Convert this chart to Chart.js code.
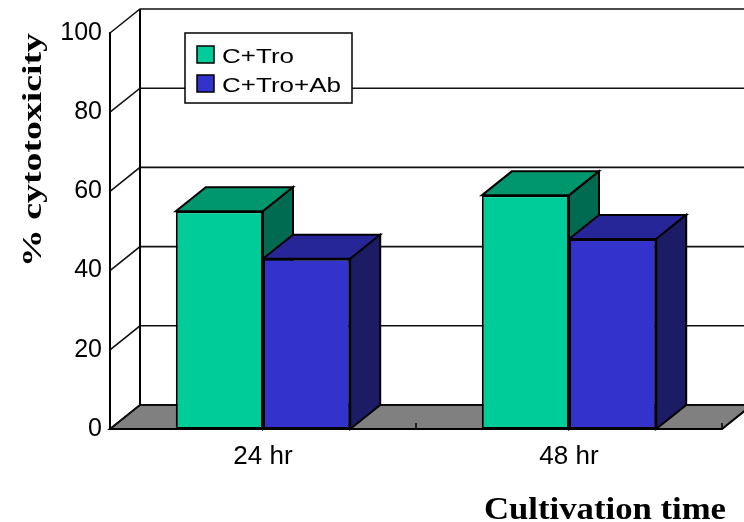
<!DOCTYPE html>
<html>
<head>
<meta charset="utf-8">
<script src="https://cdn.jsdelivr.net/npm/chart.js@4/dist/chart.umd.min.js"></script>
<style>
  html, body { margin: 0; padding: 0; background: #fff; }
  #wrap { width: 744px; height: 522px; }
</style>
</head>
<body>
<div id="wrap"><canvas id="c" width="744" height="522"></canvas></div>
<script>
// Cytotoxicity after cultivation, with and without antibody
const categories = ['24 hr', '48 hr'];
const seriesNames = ['C+Tro', 'C+Tro+Ab'];
const cTro = [55, 59];
const cTroAb = [43, 48];
const yMin = 0, yMax = 100, yStep = 20;
const yTitle = '% cytotoxicity';
const xTitle = 'Cultivation time';

// shading for the front, top and side faces of each series
const frontColors = ['#00CC99', '#3333CC'];
const topColors = ['#00976F', '#262699'];
const sideColors = ['#006B50', '#1C1C66'];

// oblique projection offset of the depth axis
const DX = 30, DY = 24;

function poly(ctx, pts, fill) {
  ctx.beginPath();
  ctx.moveTo(pts[0][0], pts[0][1]);
  for (let i = 1; i < pts.length; i++) ctx.lineTo(pts[i][0], pts[i][1]);
  ctx.closePath();
  if (fill) { ctx.fillStyle = fill; ctx.fill(); }
  ctx.stroke();
}

const box3d = {
  id: 'box3d',
  beforeDraw(chart) {
    const { ctx, chartArea: a, scales: { x, y } } = chart;
    ctx.save();
    ctx.fillStyle = '#fff';
    ctx.fillRect(0, 0, chart.width, chart.height);
    ctx.strokeStyle = '#000';
    ctx.lineJoin = 'miter';

    // floor
    ctx.lineWidth = 2;
    poly(ctx, [[a.left, a.bottom], [a.left + DX, a.bottom - DY],
               [a.right + DX, a.bottom - DY], [a.right, a.bottom]], '#808080');

    // gridlines: left side wall diagonal + back wall horizontal
    ctx.lineWidth = 1.6;
    ctx.strokeStyle = '#111';
    y.ticks.forEach(t => {
      const py = y.getPixelForValue(t.value);
      ctx.beginPath();
      ctx.moveTo(a.left, py);
      ctx.lineTo(a.left + DX, py - DY);
      ctx.lineTo(a.right + DX + 10, py - DY);
      ctx.stroke();
    });
    // back wall corner edge
    ctx.lineWidth = 2;
    ctx.strokeStyle = '#000';
    ctx.beginPath();
    ctx.moveTo(a.left + DX, y.getPixelForValue(yMax) - DY);
    ctx.lineTo(a.left + DX, a.bottom - DY);
    ctx.stroke();

    // category dividers on the floor's front edge
    const cw = (x.right - x.left) / categories.length;
    ctx.lineWidth = 1.5;
    for (let i = 1; i <= categories.length; i++) {
      const px = x.left + cw * i;
      ctx.beginPath();
      ctx.moveTo(px, a.bottom);
      ctx.lineTo(px, a.bottom - 6);
      ctx.stroke();
    }
    ctx.restore();
  },
  beforeDatasetsDraw(chart) {
    const { ctx } = chart;
    const metas = chart.getSortedVisibleDatasetMetas();
    ctx.save();
    ctx.strokeStyle = '#000';
    ctx.lineWidth = 2;
    ctx.lineJoin = 'miter';
    for (let j = 0; j < categories.length; j++) {
      metas.forEach((meta, k) => {
        const el = meta.data[j];
        const l = el.x - el.width / 2, r = el.x + el.width / 2;
        const t = el.y, b = el.base;
        poly(ctx, [[l, t], [l + DX, t - DY], [r + DX, t - DY], [r, t]], topColors[k]);
        poly(ctx, [[r, t], [r + DX, t - DY], [r + DX, b - DY], [r, b]], sideColors[k]);
      });
    }
    ctx.restore();
  },
  afterDraw(chart) {
    const { ctx, chartArea: a } = chart;
    ctx.save();
    // legend box
    const lx = a.left + 75, ly = a.top;
    ctx.fillStyle = '#fff';
    ctx.strokeStyle = '#000';
    ctx.lineWidth = 1.5;
    ctx.fillRect(lx, ly, 167, 70);
    ctx.strokeRect(lx, ly, 167, 70);
    ctx.font = '20px "Liberation Sans", Arial, sans-serif';
    ctx.textBaseline = 'alphabetic';
    ctx.textAlign = 'left';
    seriesNames.forEach((name, i) => {
      const sy = ly + 13 + i * 29;
      ctx.fillStyle = frontColors[i];
      ctx.fillRect(lx + 12, sy, 17, 17);
      ctx.lineWidth = 1.5;
      ctx.strokeRect(lx + 12, sy, 17, 17);
      ctx.fillStyle = '#000';
      ctx.save();
      ctx.translate(lx + 37, sy + 17);
      ctx.scale(1.3, 1);
      ctx.fillText(name, 0, 0);
      ctx.restore();
    });

    // value axis title, stretched along its reading direction
    ctx.fillStyle = '#000';
    ctx.font = 'bold 27px "Liberation Serif", "Times New Roman", serif';
    let w = ctx.measureText(yTitle).width;
    ctx.save();
    ctx.translate(41, 267);
    ctx.rotate(-Math.PI / 2);
    ctx.scale(234 / w, 1);
    ctx.fillText(yTitle, 0, 0);
    ctx.restore();

    // category axis title
    ctx.font = 'bold 32px "Liberation Serif", "Times New Roman", serif';
    w = ctx.measureText(xTitle).width;
    ctx.save();
    ctx.translate(726, 519);
    ctx.scale(242 / w, 1);
    ctx.textAlign = 'right';
    ctx.fillText(xTitle, 0, 0);
    ctx.restore();
    ctx.restore();
  }
};

const seriesData = [cTro, cTroAb];

new Chart(document.getElementById('c'), {
  type: 'bar',
  data: {
    labels: categories,
    datasets: seriesNames.map((name, i) => ({
      label: name,
      data: seriesData[i],
      backgroundColor: frontColors[i],
      borderColor: '#000',
      borderWidth: 2,
      borderSkipped: false,
      categoryPercentage: 0.57,
      barPercentage: 1.0
    }))
  },
  options: {
    responsive: false,
    animation: false,
    devicePixelRatio: 1,
    layout: { padding: { top: 33, right: 22, left: 0, bottom: 0 } },
    plugins: { legend: { display: false }, tooltip: { enabled: false } },
    scales: {
      x: {
        grid: { display: false, drawTicks: false },
        border: { display: false },
        ticks: {
          color: '#000',
          padding: 12,
          font: { family: '"Liberation Sans", Arial, sans-serif', size: 26 }
        },
        afterFit(scale) { scale.height = 93; }
      },
      y: {
        min: yMin, max: yMax,
        grid: { display: false, drawTicks: false },
        border: { display: true, color: '#000', width: 2 },
        ticks: {
          stepSize: yStep,
          color: '#000',
          padding: 8,
          font: { family: '"Liberation Sans", Arial, sans-serif', size: 25 }
        },
        afterFit(scale) { scale.width = 110; }
      }
    }
  },
  plugins: [box3d]
});
</script>
</body>
</html>
